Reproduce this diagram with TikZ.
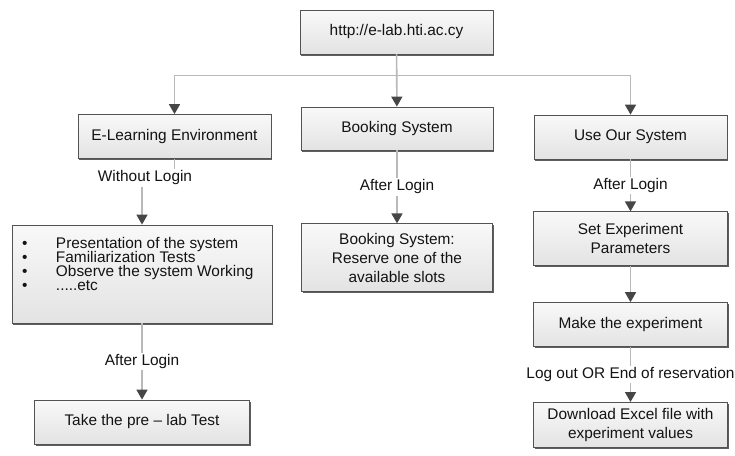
\documentclass[tikz,border=0pt]{standalone}
\usepackage{fontspec}
\setmainfont{Liberation Sans}
\usetikzlibrary{positioning, arrows.meta, shadows}
\tikzset{
box/.style={draw=gray!65!black, line width=0.8pt, top color=gray!5, bottom color=gray!22, text=gray!15!black, minimum height=44pt, minimum width=193pt, inner sep=2pt, align=center, drop shadow={shadow xshift=1pt, shadow yshift=-1.5pt, fill=gray!60!black, opacity=0.9}}, % grey boxes with a dark shadow
link/.style={draw=gray!55, line width=1.6pt}, % plain connector
conn/.style={link, -{Triangle[width=11pt,length=10pt,color=gray!55!black]}}, % connector with a dark head
lbl/.style={fill=white, text=gray!15!black, inner sep=1.5pt}, % text on a connector
every node/.style={font=\fontsize{15.4}{19}\selectfont},
}
\begin{document}
\begin{tikzpicture}[x=1pt, y=-1pt]
\useasboundingbox (0,0) rectangle (735,455);

            \node[box] (url) at (396.5,32) {http://e-lab.hti.ac.cy};
            \node[box] (el) at (174.5,136.5) {E-Learning Environment};
            \node[box, minimum height=43pt, minimum width=192pt] (bs) at (397,128.5) {Booking System};
            \node[box] (uos) at (630.5,137) {Use Our System};

            % left column
            \node[box, inner sep=0pt] (bul) at (142,274) {\parbox[c][98pt][t]{260pt}{\vspace*{12pt}\fontsize{15.4}{14.2}\selectfont\lineskiplimit=-20pt
                \makebox[44pt][l]{\hspace{10pt}\textbullet}Presentation of the system\\
                \makebox[44pt][l]{\hspace{10pt}\textbullet}Familiarization Tests\\
                \makebox[44pt][l]{\hspace{10pt}\textbullet}Observe the system Working\\
                \makebox[44pt][l]{\hspace{10pt}\textbullet}.....etc}};
            \node[box, minimum width=215pt] (pre) at (142,422) {Take the pre -- lab Test};
            \node[lbl] (wol) at (145,178) {Without Login};

            % middle column
            \node[box, minimum height=68pt, minimum width=191pt, below=73pt of bs] (res) {Booking System:\\Reserve one of the\\available slots};

            % right column
            \node[box, minimum height=54pt, minimum width=194pt, below=52pt of uos] (set) {Set Experiment\\Parameters};
            \node[box, minimum width=194pt, below=36pt of set] (mk) {Make the experiment};
            \node[box, minimum width=194pt, minimum height=45pt, below=55pt of mk] (dl) {Download Excel file with\\experiment values};

            \draw[conn] (url) -- (bs);
            \draw[conn] (url.south) -- ++(0,21) -| (el.north);
            \draw[conn] (url.south) -- ++(0,21) -| (uos.north);
            \draw[link] (el.south) -- (el.south |- wol.north);
            \draw[conn] (wol.south -| bul.north) -- (bul.north);
            \draw[conn] (bul) -- (pre) node[lbl, midway] {After Login};
            \draw[conn] (bs) -- (res) node[lbl, midway] {After Login};
            \draw[conn] (uos) -- (set) node[lbl, midway] {After Login};
            \draw[conn] (set) -- (mk);
            \draw[conn] (mk) -- (dl) node[lbl, midway] {Log out OR End of reservation};
        \end{tikzpicture}
\end{document}
